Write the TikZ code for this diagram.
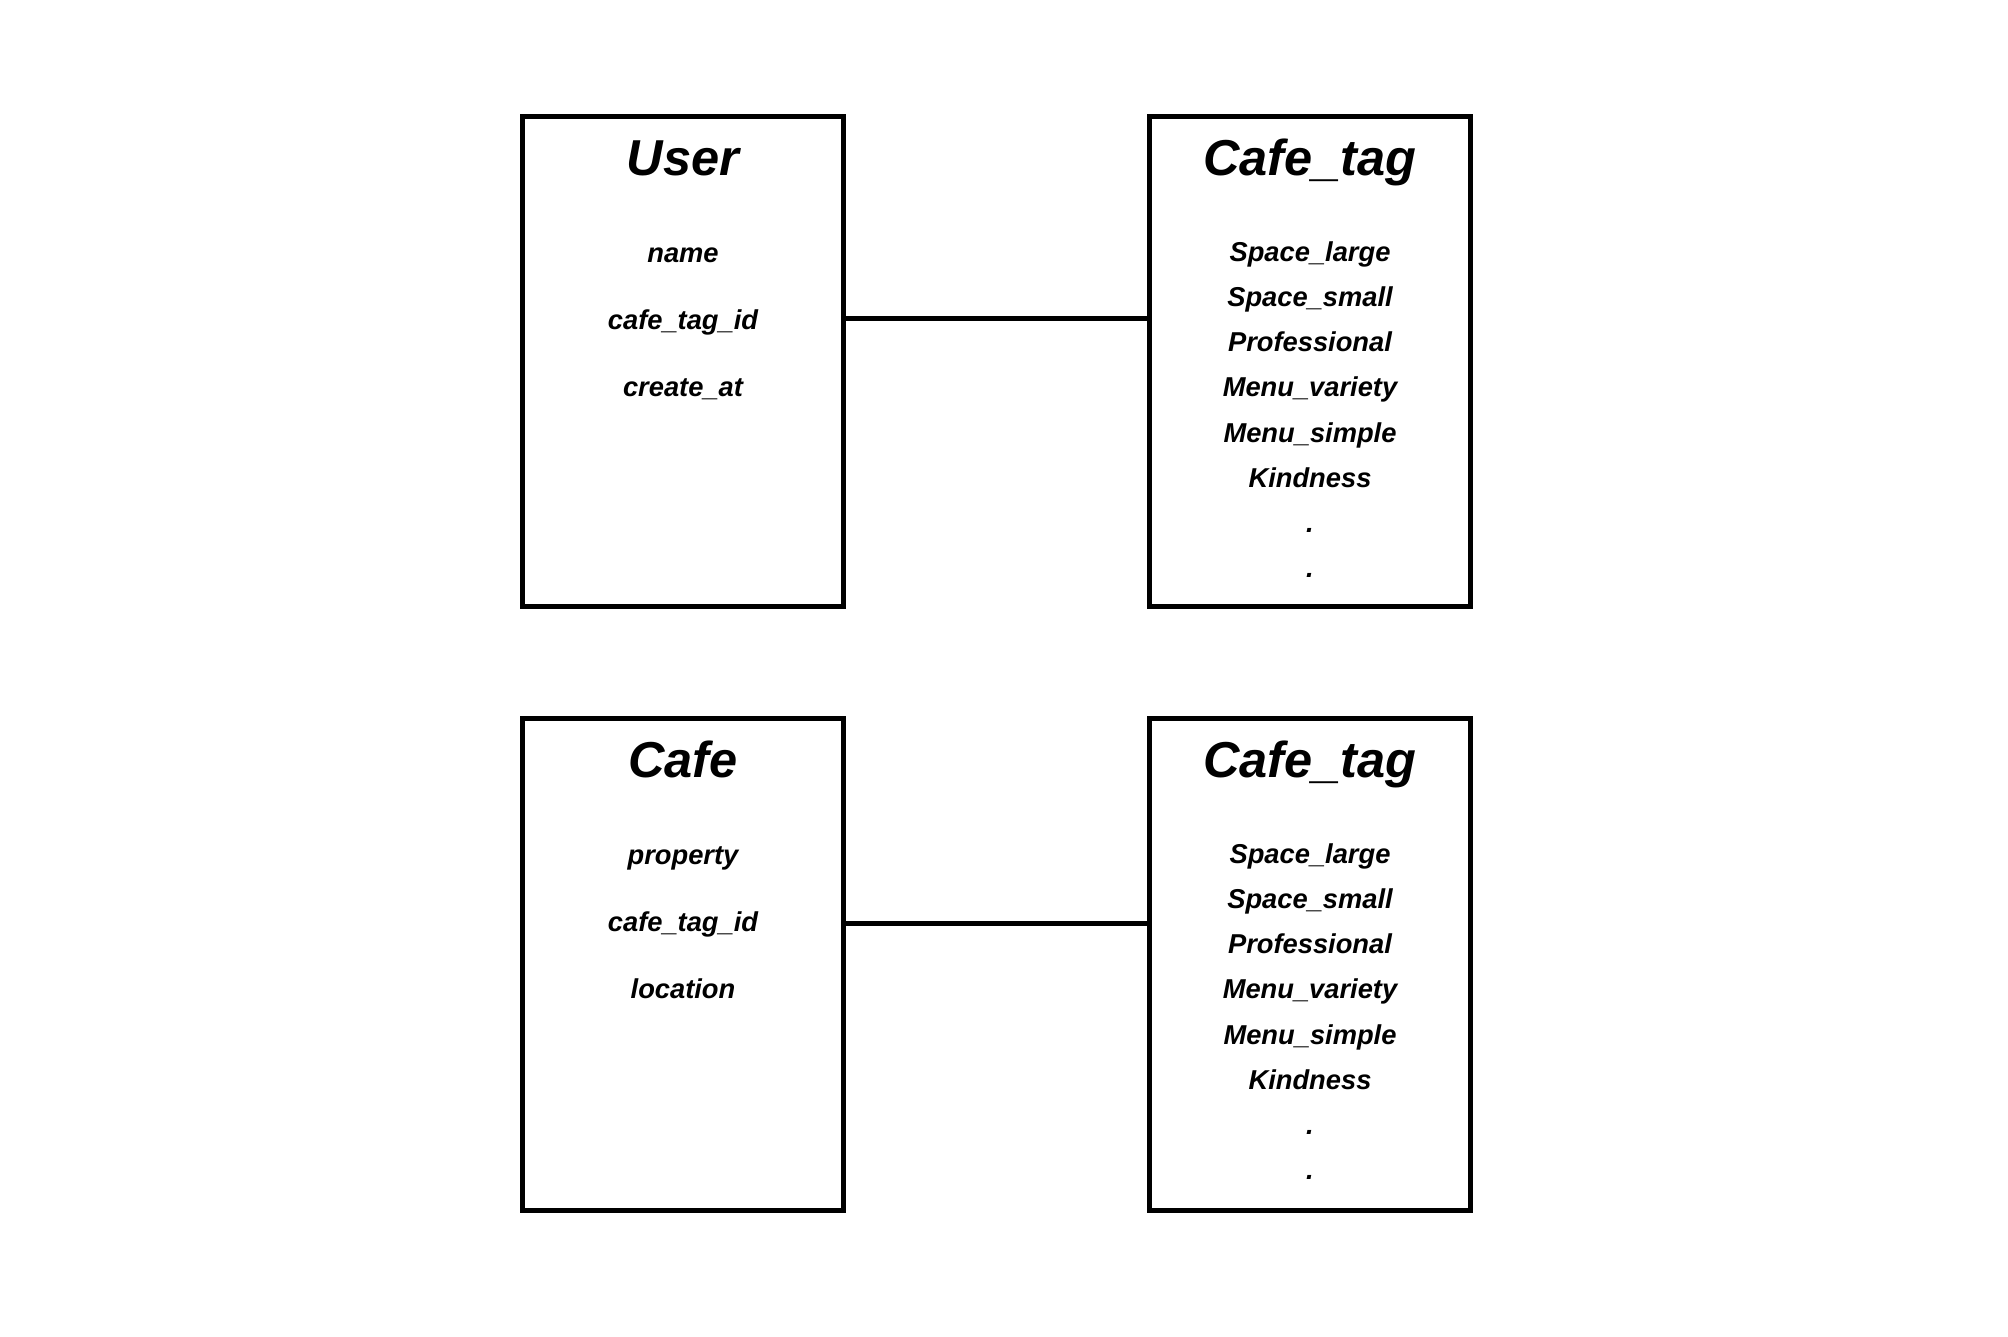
\documentclass[tikz,border=0pt]{standalone}
\usepackage{fontspec}
\setmainfont{Liberation Sans}
\begin{document}
\begin{tikzpicture}[x=1pt,y=-1pt,
  entity/.style={draw=black,line width=5pt,minimum width=321pt,inner sep=0pt,outer sep=0pt},
  ttl/.style={anchor=base,inner sep=0pt,font=\fontsize{50.5}{60}\selectfont\bfseries\itshape},
  attr/.style={anchor=base,inner sep=0pt,font=\fontsize{27.3}{32}\selectfont\bfseries\itshape},
  link/.style={draw=black,line width=5pt}]
\useasboundingbox (0,0) rectangle (2008,1336);
% boxes
\node[entity,minimum height=490pt] (user) at (683,361.5) {};
\node[entity,minimum height=490pt] (tagA) at (1310,361.5) {};
\node[entity,minimum height=492pt] (cafe) at (683,964.5) {};
\node[entity,minimum height=492pt] (tagB) at (1310,964.5) {};
% titles
\node[ttl] (userT) at (683,175) {User};
\node[ttl] (tagAT) at (1310,175) {Cafe\_tag};
\node[ttl] (cafeT) at (683,777) {Cafe};
\node[ttl] (tagBT) at (1310,777) {Cafe\_tag};
% user attributes
\node[attr] (u1) at (683,262) {name};
\node[attr] (u2) at (683,329) {cafe\_tag\_id};
\node[attr] (u3) at (683,396) {create\_at};
% cafe attributes
\node[attr] (c1) at (683,864) {property};
\node[attr] (c2) at (683,931) {cafe\_tag\_id};
\node[attr] (c3) at (683,998) {location};
% tag lists
\foreach \name/\off in {tagA/0,tagB/602}{
  \node[attr] (\name1) at (1310,261+\off) {Space\_large};
  \node[attr] (\name2) at (1310,306+\off) {Space\_small};
  \node[attr] (\name3) at (1310,351+\off) {Professional};
  \node[attr] (\name4) at (1310,396+\off) {Menu\_variety};
  \node[attr] (\name5) at (1310,442+\off) {Menu\_simple};
  \node[attr] (\name6) at (1310,487+\off) {Kindness};
  \node[attr] (\name7) at (1310,532+\off) {.};
  \node[attr] (\name8) at (1310,577+\off) {.};
}
% connectors
\draw[link] ([yshift=43.5pt]user.east) -- ([yshift=43.5pt]tagA.west);
\draw[link] ([yshift=41pt]cafe.east) -- ([yshift=41pt]tagB.west);
\end{tikzpicture}
\end{document}
